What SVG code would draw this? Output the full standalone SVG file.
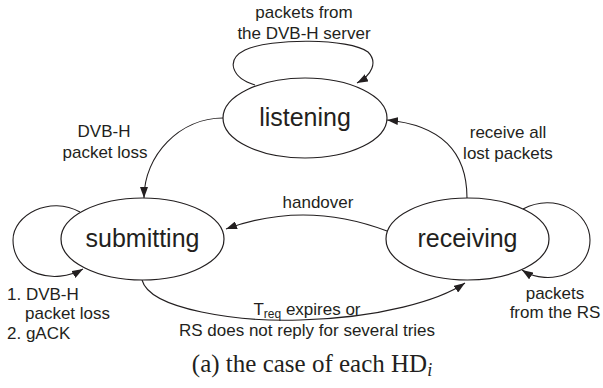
<svg xmlns="http://www.w3.org/2000/svg" width="603" height="388" viewBox="0 0 603 388">
<defs>
<style>
.node ellipse{fill:#fff;stroke:#231f20;stroke-width:1.2}
.node text{font-family:"Liberation Sans",Arial,sans-serif;font-size:25px;fill:#231f20;text-anchor:middle}
.edges path{fill:none;stroke:#231f20;stroke-width:1.1;marker-end:url(#arr)}
.lbl{font-family:"Liberation Sans",Arial,sans-serif;font-size:17px;fill:#231f20}
.mid{text-anchor:middle}
.cap{font-family:"Liberation Serif","Times New Roman",serif;font-size:25px;fill:#231f20;text-anchor:middle}
</style>
<marker id="arr" viewBox="0 0 11 8" refX="11" refY="4" markerWidth="11" markerHeight="8" markerUnits="userSpaceOnUse" orient="auto">
<path d="M0,0 L11,4 L0,8 Z" fill="#231f20"/>
</marker>
</defs>
<rect width="603" height="388" fill="#fff"/>
<g class="edges">
<path d="M255,85 C232,78 225,60 245,50 C270,38 350,38 368,52 C378,62 372,75 357,83"/>
<path d="M223,118 C180,118 144,155 144,198"/>
<path d="M467,198 C467,150 440,125 387,120"/>
<path d="M387,231 Q305,200 226,229"/>
<path d="M80,212 C50,195 13,215 13,240 C13,275 55,285 83,269"/>
<path d="M523,209 C555,192 590,212 590,240 C590,272 550,288 522,270"/>
<path d="M142,280 C150,310 240,322 300,320 C380,318 440,300 465,283"/>
</g>
<g id="listening" class="node"><ellipse cx="305" cy="118" rx="82" ry="40"/><text x="305" y="126">listening</text></g>
<g id="submitting" class="node"><ellipse cx="142.5" cy="239" rx="81.5" ry="41"/><text x="142.5" y="247">submitting</text></g>
<g id="receiving" class="node"><ellipse cx="467.5" cy="239" rx="81.5" ry="41"/><text x="467.5" y="247">receiving</text></g>
<g id="labels">
<text class="lbl mid" x="304" y="18">packets from</text>
<text class="lbl mid" x="304" y="39">the DVB-H server</text>
<text class="lbl mid" x="104" y="137">DVB-H</text>
<text class="lbl mid" x="105" y="158">packet loss</text>
<text class="lbl mid" x="508" y="138">receive all</text>
<text class="lbl mid" x="508" y="159">lost packets</text>
<text class="lbl mid" x="318" y="208">handover</text>
<text class="lbl" x="7" y="300">1. DVB-H</text>
<text class="lbl" x="25" y="319">packet loss</text>
<text class="lbl" x="7" y="339">2. gACK</text>
<text class="lbl mid" x="555" y="299">packets</text>
<text class="lbl mid" x="555" y="318">from the RS</text>
<text class="lbl mid" x="307" y="315">T<tspan font-size="12" dy="3">req</tspan><tspan dy="-3"> expires or</tspan></text>
<text class="lbl mid" x="307" y="336">RS does not reply for several tries</text>
<text class="cap" x="312" y="372">(a) the case of each HD<tspan font-style="italic" font-size="18" dy="4">i</tspan></text>
</g>
</svg>
